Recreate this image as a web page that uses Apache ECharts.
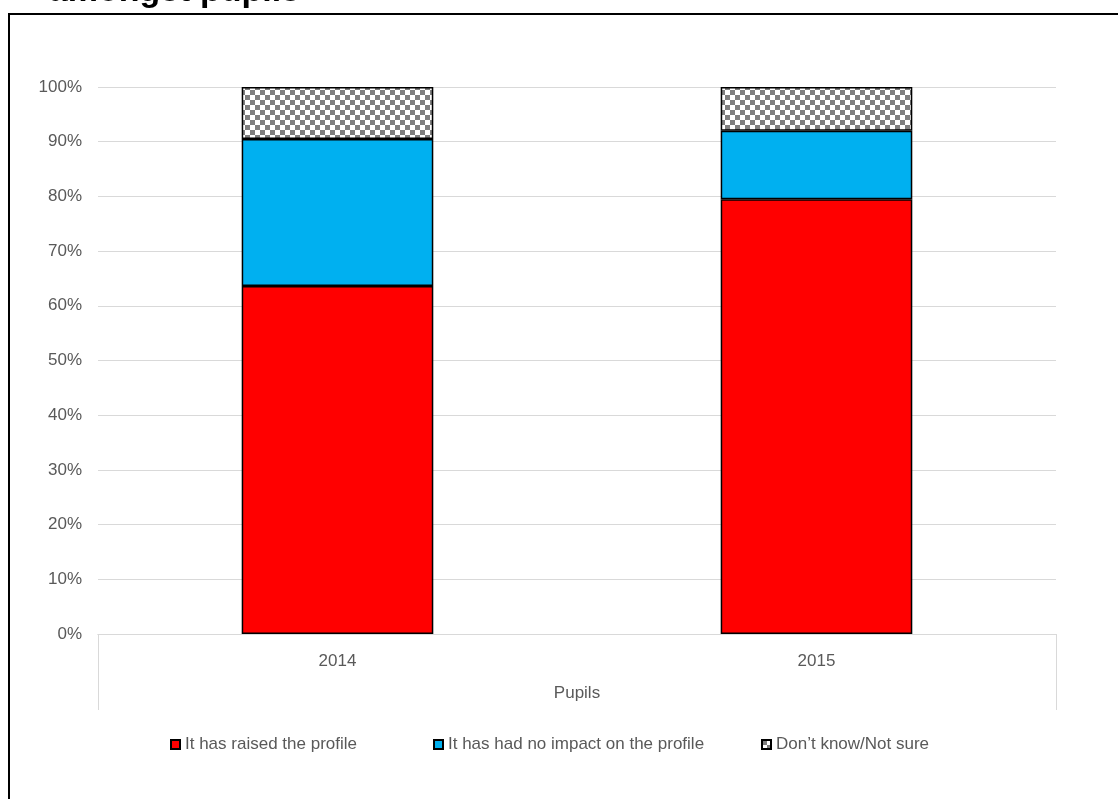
<!DOCTYPE html>
<html>
<head>
<meta charset="utf-8">
<script src="https://cdn.jsdelivr.net/npm/echarts@6/dist/echarts.min.js"></script>
<style>
  html, body { margin: 0; padding: 0; background: #ffffff; }
  #chart { width: 1118px; height: 799px; }
</style>
</head>
<body>
<div id="chart"></div>
<script>
const categories = ['2014', '2015'];
const groupLabel = ['Pupils'];
const seriesNames = ['It has raised the profile', 'It has had no impact on the profile', 'Don\u2019t know/Not sure'];
const raised = [63.6, 79.5];
const noImpact = [26.9, 12.5];
const dontKnow = [9.5, 8.0];
const yTicks = { min: 0, max: 100, interval: 10 };

function checker() {
  const c = document.createElement('canvas');
  c.width = 10; c.height = 10;
  const g = c.getContext('2d');
  g.fillStyle = '#ffffff'; g.fillRect(0, 0, 10, 10);
  g.fillStyle = '#7f7f7f';
  g.fillRect(0, 0, 5, 5); g.fillRect(5, 5, 5, 5);
  return c;
}

const font = '"Liberation Sans", Arial, sans-serif';
const textColor = '#595959';
const chart = echarts.init(document.getElementById('chart'), null, { renderer: 'canvas' });

const barStyle = (color) => ({ color: color, borderColor: '#000000', borderWidth: 1.5 });
const legendPos = [170, 433, 761];
const legends = seriesNames.map((n, i) => ({
  left: legendPos[i], top: 736, padding: 0,
  itemWidth: 9, itemHeight: 9, icon: 'rect',
  textStyle: { fontFamily: font, fontSize: 17, color: textColor },
  data: [n]
}));

chart.setOption({
  animation: false,
  backgroundColor: '#ffffff',
  textStyle: { fontFamily: font },
  grid: { left: 98, right: 62, top: 87, bottom: 165, containLabel: false },
  legend: legends,
  xAxis: [
    {
      type: 'category', data: categories, position: 'bottom',
      axisLine: { show: true, lineStyle: { color: '#d9d9d9', width: 1 } },
      axisTick: { show: false },
      axisLabel: { fontFamily: font, fontSize: 17, color: textColor, margin: 19 }
    },
    {
      type: 'category', data: groupLabel, position: 'bottom', gridIndex: 0,
      axisLine: { show: true, lineStyle: { color: '#d9d9d9', width: 1 } },
      axisTick: { show: true, length: 76, lineStyle: { color: '#d9d9d9', width: 1 } },
      axisLabel: { fontFamily: font, fontSize: 17, color: textColor, margin: 51 }
    }
  ],
  yAxis: {
    type: 'value', min: yTicks.min, max: yTicks.max, interval: yTicks.interval,
    axisLine: { show: false }, axisTick: { show: false },
    axisLabel: { fontFamily: font, fontSize: 17, color: textColor, margin: 16, formatter: '{value}%' },
    splitLine: { show: true, lineStyle: { color: '#d9d9d9', width: 1 } }
  },
  series: [
    { name: seriesNames[0], type: 'bar', stack: 'total', xAxisIndex: 0, barWidth: '40%', data: raised, itemStyle: barStyle('#ff0000') },
    { name: seriesNames[1], type: 'bar', stack: 'total', xAxisIndex: 0, barWidth: '40%', data: noImpact, itemStyle: barStyle('#00b0f0') },
    { name: seriesNames[2], type: 'bar', stack: 'total', xAxisIndex: 0, barWidth: '40%', data: dontKnow, itemStyle: barStyle({ image: checker(), repeat: 'repeat' }) }
  ],
  graphic: [
    { type: 'rect', silent: true, shape: { x: 9, y: 14, width: 1300, height: 1000 }, style: { fill: 'none', stroke: '#000000', lineWidth: 2 } },
    { type: 'text', silent: true, x: 300, y: -8, style: { text: 'amongst pupils', font: 'bold 34px "Liberation Sans", Arial, sans-serif', fill: '#000000', align: 'right', verticalAlign: 'middle' } }
  ]
});
</script>
</body>
</html>
